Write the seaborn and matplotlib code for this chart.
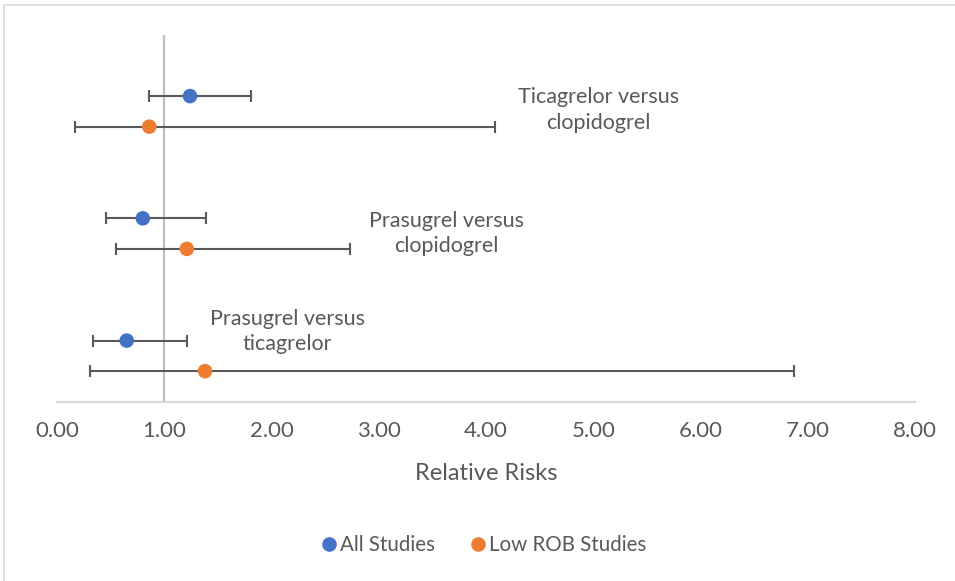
import numpy as np
import pandas as pd
import seaborn as sns
from matplotlib import pyplot as plt
from matplotlib.patches import Rectangle

# data
comparisons = ["Ticagrelor versus\nclopidogrel",
               "Prasugrel versus\nclopidogrel",
               "Prasugrel versus\nticagrelor"]
groups = ["All Studies", "Low ROB Studies"]

# rows, top to bottom: all / low for each comparison
row_group = ["All Studies", "Low ROB Studies"] * 3
row_y = [10, 9, 6, 5, 2, 1]
rr = [1.24, 0.86, 0.80, 1.21, 0.65, 1.38]
ci_low = [0.86, 0.17, 0.46, 0.55, 0.34, 0.31]
ci_high = [1.81, 4.08, 1.39, 2.73, 1.21, 6.87]

# label anchor points (data coords)
label_x = [5.05, 3.63, 2.15]
label_y = [9.55, 5.5, 2.3]

x_ticks = np.arange(0, 9, 1)

sns.set_style("white")
plt.rcParams["font.family"] = ["Lato", "DejaVu Sans"]

text_col = "#595959"
palette = {"All Studies": "#4472C4", "Low ROB Studies": "#ED7D31"}

df = pd.DataFrame({"group": row_group, "y": row_y, "rr": rr,
                   "lo": ci_low, "hi": ci_high})

fig = plt.figure(figsize=(9.55, 5.81), dpi=100)
ax = fig.add_axes([0.0597, 0.3086, 0.8984, 0.6312])

# confidence intervals
ax.errorbar(df["rr"], df["y"],
            xerr=[df["rr"] - df["lo"], df["hi"] - df["rr"]],
            fmt="none", ecolor="#595959", elinewidth=1.5,
            capsize=4.5, capthick=1.5, zorder=2)

# reference line at RR = 1
ax.axvline(1.0, color="#BFBFBF", lw=1.6, zorder=1)

sns.scatterplot(data=df, x="rr", y="y", hue="group", hue_order=groups,
                palette=palette, s=110, edgecolor="none", ax=ax,
                zorder=3, legend=False)

for txt, lx, ly in zip(comparisons, label_x, label_y):
    ax.text(lx, ly, txt, ha="center", va="center", fontsize=15.5,
            color=text_col, linespacing=1.35)

ax.set_xlim(0, 8)
ax.set_ylim(0, 12)
ax.set_xticks(x_ticks)
ax.set_xticklabels(["%.2f" % v for v in x_ticks])
ax.set_yticks([])
ax.tick_params(axis="x", length=0, pad=14, labelsize=16, labelcolor=text_col)
ax.set_xlabel("Relative Risks", fontsize=17, color=text_col, labelpad=16)
ax.set_ylabel("")
for side in ["top", "left", "right"]:
    ax.spines[side].set_visible(False)
ax.spines["bottom"].set_color("#D9D9D9")
ax.spines["bottom"].set_linewidth(1.5)

handles = [plt.Line2D([], [], marker="o", ls="", ms=10.5, color=palette[g],
                      markeredgewidth=0) for g in groups]
fig.legend(handles, groups, loc="center", bbox_to_anchor=(0.5, 0.062),
           ncol=2, frameon=False, fontsize=14.8, labelcolor=text_col,
           handletextpad=-0.45, columnspacing=1.1)

# outer chart border
fig.patches.append(Rectangle((0.0045, -0.005), 1.0, 0.9965,
                             transform=fig.transFigure, fill=False,
                             edgecolor="#D9D9D9", lw=1.2))

fig.savefig("out.png", dpi=100)
